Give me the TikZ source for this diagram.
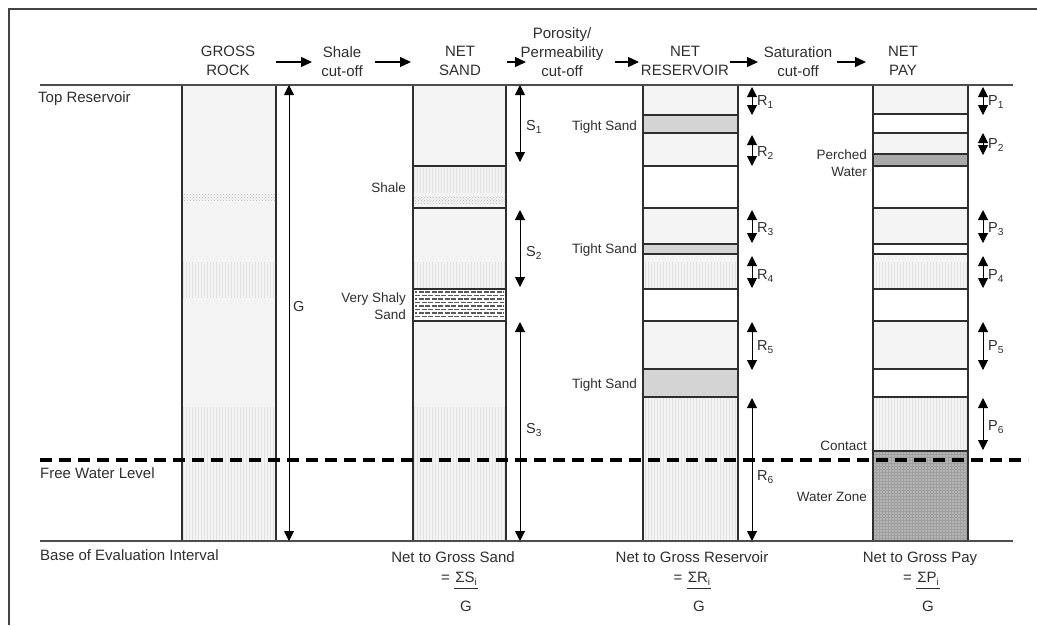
\documentclass[tikz,border=0pt]{standalone}
\usepackage{fontspec}
\setmainfont{Liberation Sans}
\usetikzlibrary{arrows.meta,patterns}
\definecolor{ink}{HTML}{2E2E2E}
\definecolor{lightfill}{HTML}{F4F4F4}
\definecolor{tightfill}{HTML}{D4D4D4}
\definecolor{perchfill}{HTML}{A9A9A9}
\definecolor{waterfill}{HTML}{B4B4B4}
\newcommand{\lowsub}[1]{\raisebox{-3.5pt}{\fontsize{10}{10}\selectfont #1}}
\begin{document}
\begin{tikzpicture}[x=1pt,y=-1pt,
  txt/.style={font=\fontsize{14.5}{16.5}\selectfont, text=ink, inner sep=0pt},
  big/.style={font=\fontsize{15}{17}\selectfont, text=ink, inner sep=0pt},
  hdr/.style={font=\fontsize{15}{19}\selectfont, text=ink, inner sep=0pt, align=center, anchor=north},
  lbl/.style={font=\fontsize{13.5}{16.5}\selectfont, text=ink, inner sep=0pt},
  rlbl/.style={lbl, align=right, anchor=east},
  border/.style={draw=ink, line width=1.1pt},
  level/.style={draw=ink!85, line width=1.5pt},
  fwl/.style={draw=black, line width=4pt, dash pattern=on 12pt off 7pt},
  dimarrow/.style={draw=black, line width=1pt, {Triangle[length=10pt,width=10pt]}-{Triangle[length=10pt,width=10pt]}},
  flow/.style={draw=black, line width=1.4pt, -{Triangle[length=11pt,width=10pt]}},
  faint/.style={pattern=vertical lines, pattern color=gray!22},
  dots/.style={pattern=crosshatch dots, pattern color=gray!55}]
\useasboundingbox (0,0) rectangle (1037,625);

% frame
\draw[draw=ink!90, line width=1.3pt] (9,625) -- (9,9) -- (1037,9);

% ---------- GROSS ROCK column ----------
\fill[lightfill] (182,85) rectangle (276,541);
\fill[faint] (183,262) rectangle (275,297);
\fill[faint] (183,407) rectangle (275,541);
\fill[dots] (183,194) rectangle (275,200);

% ---------- NET SAND column ----------
\fill[lightfill] (413,85) rectangle (506,541);
\fill[gray!10] (413,166) rectangle (506,208);
\fill[faint] (414,168) rectangle (505,192);
\fill[dots] (414,196) rectangle (505,203);
\fill[faint] (414,262) rectangle (505,289);
\fill[faint] (414,407) rectangle (505,541);
\fill[white] (413,289) rectangle (506,321);
\foreach \yy [count=\k] in {292,295.5,299,302.5,306,309.5,313,316.5}{
  \pgfmathsetmacro{\ph}{mod(\k,2)*3}
  \draw[gray!70!black, line width=1.1pt, dash pattern=on 5pt off 1.5pt, dash phase=\ph pt] (415,\yy) -- (504,\yy);
}
\foreach \yy in {166,208,289,321}{\draw[border] (413,\yy) -- (506,\yy);}

% ---------- NET RESERVOIR column ----------
\fill[lightfill] (643,85) rectangle (738,541);
\fill[faint] (644,262) rectangle (737,289);
\fill[faint] (644,397) rectangle (737,541);
\fill[tightfill] (643,115) rectangle (738,133);
\fill[tightfill] (643,244) rectangle (738,254);
\fill[tightfill] (643,369) rectangle (738,397);
\fill[white] (643,166) rectangle (738,208);
\fill[white] (643,289) rectangle (738,321);
\foreach \yy in {115,133,166,208,244,254,289,321,369,397}{\draw[border] (643,\yy) -- (738,\yy);}

% ---------- NET PAY column ----------
\fill[lightfill] (873,85) rectangle (968,541);
\fill[faint] (874,262) rectangle (967,289);
\fill[faint] (874,397) rectangle (967,451);
\fill[white] (873,114) rectangle (968,133);
\fill[perchfill] (873,154) rectangle (968,166);
\fill[white] (873,166) rectangle (968,208);
\fill[white] (873,244) rectangle (968,254);
\fill[white] (873,289) rectangle (968,321);
\fill[white] (873,369) rectangle (968,397);
\fill[waterfill] (873,451) rectangle (968,541);
\fill[pattern=grid, pattern color=gray!75] (874,452) rectangle (967,540);
\foreach \yy in {114,133,154,166,208,244,254,289,321,369,397,451}{\draw[border] (873,\yy) -- (968,\yy);}

% column borders
\foreach \xa/\xb in {182/276,413/506,643/738,873/968}{
  \draw[border] (\xa,85) -- (\xa,541);
  \draw[border] (\xb,85) -- (\xb,541);
}

% top and base lines
\draw[level] (40,85) -- (1013,85);
\draw[level] (40,541) -- (1013,541);

% dimension arrows
\foreach \n/\x/\a/\b in {G/289/85/541,
  S1/520/85/162, S2/520/210/287, S3/520/322/541,
  R1/752/87/115, R2/752/135/166, R3/752/210/243, R4/752/256/288, R5/752/322/370, R6/752/398/541,
  P1/983/87/115, P2/983/133/155, P3/983/210/243, P4/983/256/288, P5/983/322/370, P6/983/398/450}{
  \coordinate (\n top) at (\x,\a);
  \coordinate (\n bot) at (\x,\b);
  \draw[dimarrow] (\n top) -- (\n bot);
}

% free water level
\draw[fwl] (40,460) -- (1028,460);

% headers
\node[hdr] (gross) at (228,46) {GROSS\\ROCK};
\node[hdr] (shalecut) at (342,46) {Shale\\cut-off};
\node[hdr] (netsand) at (460,46) {NET\\SAND};
\node[hdr] (porocut) at (562,27) {Porosity/\\Permeability\\cut-off};
\node[hdr] (netres) at (685,46) {NET\\RESERVOIR};
\node[hdr] (satcut) at (798,46) {Saturation\\cut-off};
\node[hdr] (netpay) at (903,46) {NET\\PAY};
\foreach \n/\a/\b in {f1/276/312, f2/375/411, f3/507/526, f4/615/639, f5/730/758, f6/837/866}{
  \coordinate (\n s) at (\a,62);
  \coordinate (\n e) at (\b,62);
  \draw[flow] (\n s) -- (\n e);
}

% left labels
\node[big, anchor=base west] (topres) at (38,102) {Top Reservoir};
\node[big, anchor=base west] (fwltext) at (40,478) {Free Water Level};
\node[big, anchor=base west] (basetext) at (40,560) {Base of Evaluation Interval};

% dimension labels
\node[txt, anchor=west] (Glab) at (293,307) {G};
\node[txt, anchor=west] (S1lab) at (526,127) {S\textsubscript{1}};
\node[txt, anchor=west] (S2lab) at (526,253) {S\textsubscript{2}};
\node[txt, anchor=west] (S3lab) at (526,430) {S\textsubscript{3}};
\foreach \n/\y in {1/102,2/153,3/229,4/276,5/347,6/477}{
  \node[txt, anchor=west] (R\n lab) at (757,\y) {R\textsubscript{\n}};
}
\foreach \n/\y in {1/102,2/145,3/229,4/276,5/347,6/427}{
  \node[txt, anchor=west] (P\n lab) at (988,\y) {P\textsubscript{\n}};
}

% layer labels
\node[rlbl] (shalelab) at (406,188) {Shale};
\node[rlbl] (vssand) at (406,306) {Very Shaly\\Sand};
\node[rlbl] (ts1) at (637,127) {Tight Sand};
\node[rlbl] (ts2) at (637,250) {Tight Sand};
\node[rlbl] (ts3) at (637,385) {Tight Sand};
\node[rlbl] (perched) at (867,163) {Perched\\Water};
\node[rlbl] (contact) at (867,446) {Contact};
\node[rlbl] (wzone) at (867,497) {Water Zone};

% net to gross formulas
\node[big, anchor=base] (ngsand) at (453,562) {Net to Gross Sand};
\node[big, anchor=base] (ngres) at (692,562) {Net to Gross Reservoir};
\node[big, anchor=base] (ngpay) at (920,562) {Net to Gross Pay};
\foreach \n/\c/\t in {s/466/S, r/699/R, p/928/P}{
  \node[big, anchor=base, inner xsep=1pt] (num\n) at (\c,582) {Σ\t\lowsub{i}};
  \node[big, anchor=base east] (eq\n) at ([xshift=-4pt]num\n.base west) {=};
  \coordinate (bar\n a) at ([yshift=-3pt]num\n.south west);
  \coordinate (bar\n b) at ([yshift=-3pt]num\n.south east);
  \draw[ink, line width=0.9pt] (bar\n a) -- (bar\n b);
  \node[big, anchor=base] (den\n) at (\c,611) {G};
}
\end{tikzpicture}
\end{document}
